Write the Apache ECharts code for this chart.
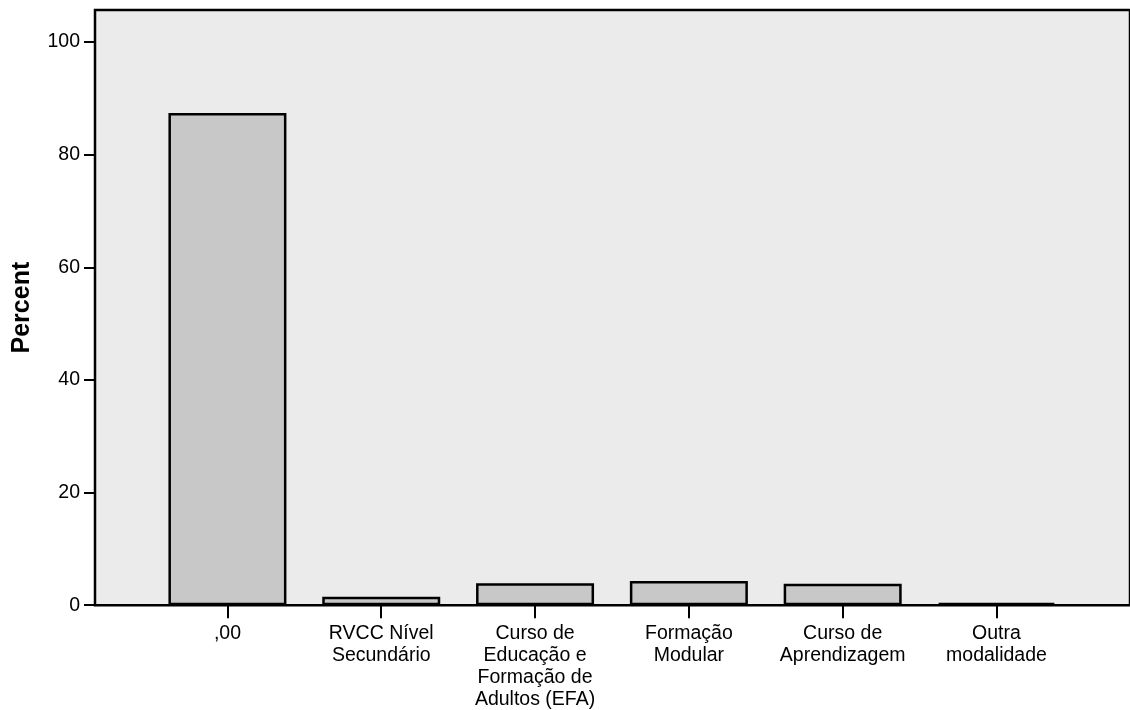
<!DOCTYPE html>
<html>
<head>
<meta charset="utf-8">
<script src="https://cdn.jsdelivr.net/npm/echarts@6/dist/echarts.min.js"></script>
<style>
  html, body { margin: 0; padding: 0; background: #fff; }
  #chart { width: 1130px; height: 710px; }
</style>
</head>
<body>
<div id="chart"></div>
<script>
const categories = [
    ',00',
    'RVCC Nível\nSecundário',
    'Curso de\nEducação e\nFormação de\nAdultos (EFA)',
    'Formação\nModular',
    'Curso de\nAprendizagem',
    'Outra\nmodalidade'
]
const percents = [87.4, 1.5, 3.9, 4.3, 3.8, 0.4]
const yTicks = [0, 20, 40, 60, 80, 100]

const positions = categories.map((c, i) => i)
const fontFamily = 'Arial, "Liberation Sans", sans-serif'

const chart = echarts.init(document.getElementById('chart'))

const option = {
    animation: false,
    grid: {
        left: 95,
        right: -4,
        top: 10,
        bottom: 103,
        show: true,
        backgroundColor: '#ebebeb',
        borderColor: '#000',
        borderWidth: 2.5
    },
    xAxis: {
        type: 'value',
        min: -0.861,
        max: 5.868,
        splitLine: { show: false },
        axisLine: { show: true, onZero: false, lineStyle: { color: '#000', width: 2 } },
        axisTick: {
            show: true,
            customValues: positions,
            length: 13,
            lineStyle: { color: '#000', width: 2 }
        },
        axisLabel: {
            customValues: positions,
            formatter: v => categories[v],
            margin: 18,
            color: '#000',
            fontSize: 19.5,
            lineHeight: 21.7,
            fontFamily: fontFamily
        }
    },
    yAxis: {
        type: 'value',
        min: 0,
        max: 105.7,
        name: 'Percent',
        nameLocation: 'middle',
        nameGap: 60,
        nameTextStyle: {
            color: '#000',
            fontSize: 25,
            fontWeight: 'bold',
            fontFamily: fontFamily
        },
        splitLine: { show: false },
        axisLine: { show: true, onZero: false, lineStyle: { color: '#000', width: 2 } },
        axisTick: {
            show: true,
            customValues: yTicks,
            length: 11,
            lineStyle: { color: '#000', width: 2 }
        },
        axisLabel: {
            customValues: yTicks,
            margin: 15,
            color: '#000',
            fontSize: 19.5,
            fontFamily: fontFamily
        }
    },
    series: [{
        type: 'bar',
        data: positions.map(i => [i, percents[i]]),
        barWidth: 118,
        itemStyle: {
            color: '#c8c8c8',
            borderColor: '#000',
            borderWidth: 2.5
        }
    }]
}

chart.setOption(option)
</script>
</body>
</html>
